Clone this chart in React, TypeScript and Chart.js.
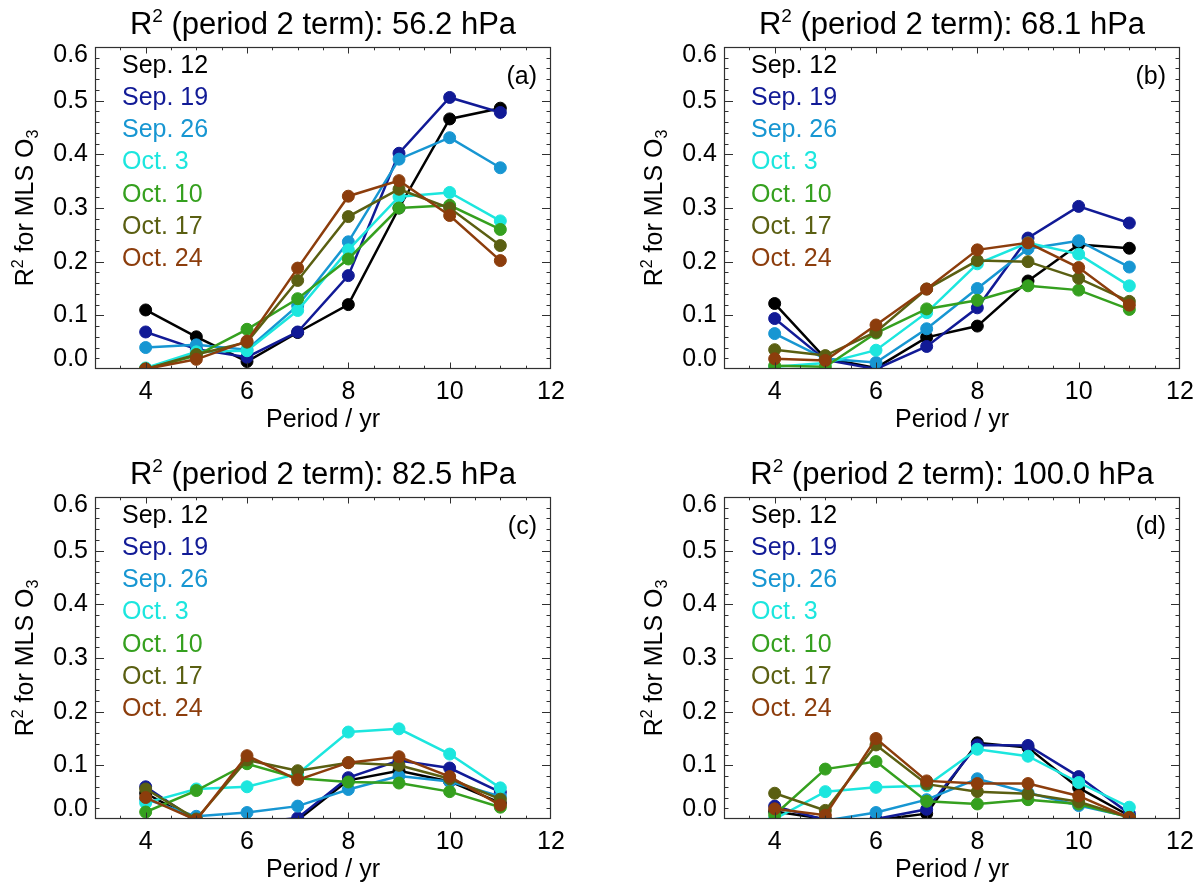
import { useEffect, useRef } from 'react';
import { Chart, registerables } from 'chart.js';

Chart.register(...registerables);

// Oscillation period (years) on the x axis
const PERIODS = [4, 5, 6, 7, 8, 9, 10, 11];

// One line per start date
const SERIES_LABELS = ['Sep. 12', 'Sep. 19', 'Sep. 26', 'Oct. 3', 'Oct. 10', 'Oct. 17', 'Oct. 24'];
const SERIES_COLORS = ['#000000', '#111a96', '#1796d2', '#1ce6de', '#35a01f', '#5a5f12', '#8c3d0c'];

const X_TICKS = [4, 6, 8, 10, 12];
const Y_TICKS = [0, 0.1, 0.2, 0.3, 0.4, 0.5, 0.6];

const PRESSURES = ['56.2', '68.1', '82.5', '100.0'];
const PANEL_TAGS = ['(a)', '(b)', '(c)', '(d)'];

// R² of the period-2 term, rows follow SERIES_LABELS, columns follow PERIODS
const R2_562 = [
  [0.110, 0.060, 0.014, 0.068, 0.120, 0.300, 0.466, 0.486],
  [0.069, 0.037, 0.022, 0.069, 0.174, 0.402, 0.506, 0.478],
  [0.040, 0.045, 0.036, 0.118, 0.237, 0.391, 0.431, 0.375],
  [0.002, 0.032, 0.034, 0.109, 0.222, 0.321, 0.329, 0.276],
  [0.000, 0.025, 0.074, 0.131, 0.205, 0.300, 0.305, 0.260],
  [0.000, 0.027, 0.050, 0.165, 0.284, 0.335, 0.300, 0.230],
  [0.000, 0.018, 0.052, 0.188, 0.322, 0.351, 0.286, 0.202],
];

const R2_681 = [
  [0.122, 0.020, 0.002, 0.059, 0.080, 0.164, 0.232, 0.225],
  [0.094, 0.017, 0.000, 0.042, 0.114, 0.244, 0.303, 0.272],
  [0.066, 0.019, 0.012, 0.075, 0.150, 0.224, 0.239, 0.190],
  [0.004, 0.011, 0.035, 0.105, 0.196, 0.235, 0.214, 0.155],
  [0.006, 0.004, 0.067, 0.112, 0.128, 0.155, 0.147, 0.111],
  [0.036, 0.025, 0.069, 0.149, 0.202, 0.200, 0.169, 0.126],
  [0.019, 0.016, 0.082, 0.149, 0.222, 0.235, 0.189, 0.119],
];

const R2_825 = [
  [0.048, -0.003, -0.010, -0.002, 0.072, 0.090, 0.070, 0.030],
  [0.060, -0.003, -0.008, 0.002, 0.077, 0.109, 0.095, 0.050],
  [0.037, 0.005, 0.012, 0.024, 0.055, 0.080, 0.070, 0.042],
  [0.030, 0.056, 0.060, 0.084, 0.162, 0.168, 0.121, 0.058],
  [0.013, 0.053, 0.103, 0.076, 0.069, 0.067, 0.051, 0.022],
  [0.056, 0.000, 0.110, 0.090, 0.105, 0.100, 0.075, 0.037],
  [0.040, -0.002, 0.118, 0.073, 0.105, 0.116, 0.079, 0.026],
];

const R2_1000 = [
  [0.014, 0.000, -0.002, 0.010, 0.142, 0.133, 0.058, 0.006],
  [0.024, -0.002, 0.000, 0.018, 0.138, 0.137, 0.079, 0.010],
  [0.000, -0.003, 0.012, 0.036, 0.075, 0.049, 0.025, 0.004],
  [0.000, 0.051, 0.059, 0.062, 0.130, 0.117, 0.068, 0.022],
  [0.008, 0.093, 0.107, 0.033, 0.028, 0.036, 0.028, 0.003],
  [0.048, 0.016, 0.138, 0.065, 0.051, 0.047, 0.032, 0.003],
  [0.019, 0.007, 0.150, 0.071, 0.066, 0.066, 0.043, 0.002],
];

const PANEL_VALUES = [R2_562, R2_681, R2_825, R2_1000];

const FONT = '"Liberation Sans", Arial, Helvetica, sans-serif';
const CANVAS_W = 572;
const CANVAS_H = 438;

type Piece = { text: string; size: number; dy: number };

function drawPieces(ctx: CanvasRenderingContext2D, pieces: Piece[], cx: number, baseline: number) {
  let total = 0;
  for (const p of pieces) {
    ctx.font = `${p.size}px ${FONT}`;
    total += ctx.measureText(p.text).width;
  }
  let x = cx - total / 2;
  ctx.textAlign = 'left';
  ctx.textBaseline = 'alphabetic';
  for (const p of pieces) {
    ctx.font = `${p.size}px ${FONT}`;
    ctx.fillText(p.text, x, baseline + p.dy);
    x += ctx.measureText(p.text).width;
  }
}

function makeDecor(pressure: string, tag: string) {
  return {
    id: 'panelDecor',
    afterDatasetsDraw(chart: any) {
      const { ctx, chartArea: a } = chart;
      const xs = chart.scales.x;
      const ys = chart.scales.y;
      ctx.save();

      // box
      ctx.strokeStyle = '#303030';
      ctx.lineWidth = 1.2;
      ctx.strokeRect(a.left + 0.5, a.top + 0.5, a.right - a.left - 1, a.bottom - a.top - 1);

      // inward tick marks on all four sides
      ctx.lineWidth = 1;
      ctx.beginPath();
      for (let v = 3.5; v < 12; v += 0.5) {
        const major = X_TICKS.includes(v);
        const len = major ? 6.5 : 3.3;
        const px = Math.round(xs.getPixelForValue(v)) + 0.5;
        ctx.moveTo(px, a.bottom);
        ctx.lineTo(px, a.bottom - len);
        ctx.moveTo(px, a.top);
        ctx.lineTo(px, a.top + len);
      }
      for (let k = 1; k < 30; k++) {
        const v = k * 0.02;
        const major = k % 5 === 0;
        const len = major ? 9 : 4.5;
        const py = Math.round(ys.getPixelForValue(v)) + 0.5;
        ctx.moveTo(a.left, py);
        ctx.lineTo(a.left + len, py);
        ctx.moveTo(a.right, py);
        ctx.lineTo(a.right - len, py);
      }
      ctx.stroke();

      ctx.fillStyle = '#000';
      ctx.font = `25px ${FONT}`;

      // x tick labels
      ctx.textAlign = 'center';
      ctx.textBaseline = 'middle';
      for (const v of X_TICKS) {
        ctx.fillText(String(v), xs.getPixelForValue(v), a.bottom + 23);
      }

      // y tick labels
      ctx.textAlign = 'right';
      for (const v of Y_TICKS) {
        const py = Math.min(Math.max(ys.getPixelForValue(v), a.top + 8), a.bottom - 10);
        ctx.fillText(v.toFixed(1), a.left - 7, py);
      }

      // x axis title
      ctx.textAlign = 'center';
      ctx.fillText('Period / yr', (a.left + a.right) / 2, a.bottom + 51);

      // panel title
      drawPieces(
        ctx,
        [
          { text: 'R', size: 31, dy: 0 },
          { text: '2', size: 19, dy: -12 },
          { text: ` (period 2 term): ${pressure} hPa`, size: 31, dy: 0 },
        ],
        (a.left + a.right) / 2,
        a.top - 13,
      );

      // y axis title, rotated
      ctx.save();
      ctx.translate(24, (a.top + a.bottom) / 2);
      ctx.rotate(-Math.PI / 2);
      drawPieces(
        ctx,
        [
          { text: 'R', size: 25, dy: 0 },
          { text: '2', size: 16, dy: -10 },
          { text: ' for MLS O', size: 25, dy: 0 },
          { text: '3', size: 16, dy: 5 },
        ],
        0,
        9,
      );
      ctx.restore();

      // date legend
      ctx.font = `25px ${FONT}`;
      ctx.textAlign = 'left';
      ctx.textBaseline = 'middle';
      SERIES_LABELS.forEach((label, i) => {
        ctx.fillStyle = SERIES_COLORS[i];
        ctx.fillText(label, a.left + 27, a.top + 19 + i * 32.2);
      });

      // panel tag
      ctx.fillStyle = '#000';
      ctx.textAlign = 'right';
      ctx.fillText(tag, a.right - 14, a.top + 30);

      ctx.restore();
    },
  };
}

function Panel({ index, left, top }: { index: number; left: number; top: number }) {
  const ref = useRef<HTMLCanvasElement>(null);

  useEffect(() => {
    const values = PANEL_VALUES[index];
    const chart = new Chart(ref.current as HTMLCanvasElement, {
      type: 'line',
      data: {
        datasets: SERIES_LABELS.map((label, i) => ({
          label,
          data: PERIODS.map((p, j) => ({ x: p, y: values[i][j] })),
          borderColor: SERIES_COLORS[i],
          backgroundColor: SERIES_COLORS[i],
          pointBackgroundColor: SERIES_COLORS[i],
          pointBorderColor: SERIES_COLORS[i],
          borderWidth: 2.5,
          pointRadius: 6,
          pointBorderWidth: 1,
          pointHoverRadius: 6,
          tension: 0,
          clip: 0,
          order: SERIES_LABELS.length - i,
        })),
      },
      options: {
        animation: false,
        responsive: false,
        maintainAspectRatio: false,
        events: [],
        layout: { padding: { left: 95, right: 21, top: 47, bottom: 69 } },
        plugins: {
          legend: { display: false },
          tooltip: { enabled: false },
          title: { display: false },
        },
        scales: {
          x: { type: 'linear', min: 3, max: 12, display: false },
          y: { type: 'linear', min: 0, max: 0.6, display: false },
        },
      },
      plugins: [makeDecor(PRESSURES[index], PANEL_TAGS[index])],
    } as any);
    return () => chart.destroy();
  }, [index]);

  return (
    <canvas
      ref={ref}
      width={CANVAS_W}
      height={CANVAS_H}
      style={{ position: 'absolute', left, top, width: CANVAS_W, height: CANVAS_H }}
    />
  );
}

export default function App() {
  return (
    <div
      style={{
        position: 'absolute',
        left: 0,
        top: 0,
        width: 1201,
        height: 888,
        background: '#ffffff',
        overflow: 'hidden',
      }}
    >
      <Panel index={0} left={0} top={0} />
      <Panel index={1} left={629} top={0} />
      <Panel index={2} left={0} top={450} />
      <Panel index={3} left={629} top={450} />
    </div>
  );
}
